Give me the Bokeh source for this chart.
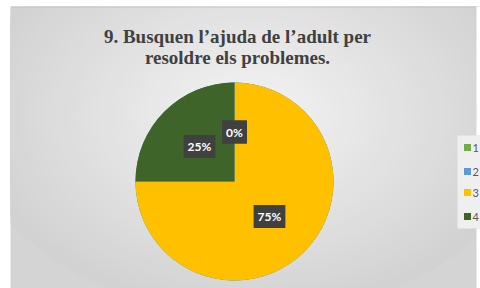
import numpy as np
from bokeh.plotting import figure
from bokeh.models import ColumnDataSource, Range1d
from bokeh.core.properties import value
from bokeh.embed import file_html
from bokeh.resources import INLINE

# ---- data ----
categories = ["1", "2", "3", "4"]
percent = [0, 0, 75, 25]
colors = ["#70AD47", "#5B9BD5", "#FFC000", "#3F6429"]
title_lines = ["9. Busquen l\u2019ajuda de l\u2019adult per", "resoldre els problemes."]

W, H = 480, 288
L, T = 10, 6
p = figure(width=W, height=H, output_backend="svg", toolbar_location=None,
           x_range=Range1d(L, W), y_range=Range1d(0, H - T),
           min_border_left=L, min_border_top=T, min_border_right=0, min_border_bottom=0)
p.axis.visible = False
p.grid.visible = False
p.outline_line_color = None
p.background_fill_color = "#d4d4d4"
p.border_fill_color = "white"


def Y(py):
    return H - py


# soft radial background gradient
n = 40
for i in range(n):
    t = i / (n - 1)
    g = int(0xd2 + (0xf3 - 0xd2) * t)
    p.ellipse(x=[250], y=[Y(115)], width=[540 * (1 - t) + 30],
              height=[380 * (1 - t) + 20],
              fill_color="#%02x%02x%02x" % (g, g, g), line_color=None)
# thin top line and white right strip
p.rect(x=[(L + 476) / 2], y=[Y(6.5)], width=[476 - L], height=[1], fill_color="#c4c4c4", line_color=None)
p.quad(left=[476, 476], right=[480, 480], top=[Y(0), Y(228)], bottom=[Y(135), Y(288)],
       fill_color="white", line_color=None)

cx, cy, R = 234, Y(181), 99
vals = np.array(percent, dtype=float)
frac = vals / vals.sum()
ends = np.cumsum(frac)
starts = ends - frac
start_ang = np.pi / 2 - starts * 2 * np.pi
end_ang = np.pi / 2 - ends * 2 * np.pi
mid = (start_ang + end_ang) / 2

src = ColumnDataSource(dict(cat=categories, start=start_ang, end=end_ang, color=colors,
                            lx=cx + 0.5 * R * np.cos(mid), ly=cy + 0.5 * R * np.sin(mid),
                            lab=["%d%%" % v for v in percent]))
p.wedge(x=cx, y=cy, radius=R, start_angle="start", end_angle="end", direction="clock",
        fill_color="color", line_color=None, source=src)

p.text(x="lx", y="ly", text="lab", source=src, text_align="center",
       text_baseline="middle", text_color="white", text_font=value("Lato"),
       text_font_style="bold", text_font_size="12px",
       background_fill_color="#404040", background_fill_alpha=1.0, padding=4)

# title
p.text(x=[237, 237], y=[Y(36), Y(57)], text=title_lines, text_align="center",
       text_baseline="alphabetic", text_font=value("Liberation Serif"), text_font_style="bold",
       text_font_size="19px", text_color="#404040")

# legend
ly = [Y(147), Y(171), Y(192), Y(216)]
p.quad(left=[457], right=[480], top=[Y(135)], bottom=[Y(228)], fill_color="#efefef", line_color=None)
p.scatter(x=[467] * 4, y=ly, marker="square", size=7, fill_color=colors, line_color=None)
p.text(x=[472] * 4, y=ly, text=categories, text_baseline="middle", text_font=value("Lato"),
       text_font_size="11px", text_color="#595959")

open("out.html", "w").write(file_html(p, INLINE))
